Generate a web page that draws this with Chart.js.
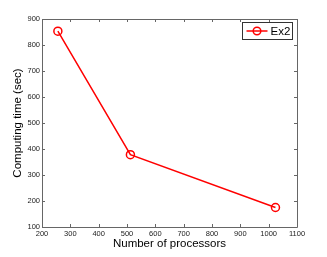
<!DOCTYPE html>
<html>
<head>
<meta charset="utf-8">
<script src="https://cdn.jsdelivr.net/npm/chart.js@4"></script>
<style>
  html, body { margin: 0; padding: 0; background: #fff; }
  #wrap { width: 327px; height: 257px; }
</style>
</head>
<body>
<div id="wrap"><canvas id="chart"></canvas></div>
<script>
const processors = [256, 512, 1024];
const computingTime = [853, 378, 175];
const seriesName = 'Ex2';
const xTicks = [200, 300, 400, 500, 600, 700, 800, 900, 1000, 1100];
const yTicks = [100, 200, 300, 400, 500, 600, 700, 800, 900];

// box around the plot with inward ticks, matlab style
const boxTicks = {
    id: 'boxTicks',
    afterDraw(chart) {
        const { ctx, chartArea: a, scales } = chart;
        ctx.save();
        ctx.strokeStyle = '#666';
        ctx.lineWidth = 1;
        ctx.beginPath();
        ctx.rect(a.left + 0.5, a.top + 0.5, a.right - a.left, a.bottom - a.top);
        ctx.stroke();
        ctx.beginPath();
        xTicks.forEach(v => {
            const x = Math.round(scales.x.getPixelForValue(v)) + 0.5;
            ctx.moveTo(x, a.bottom); ctx.lineTo(x, a.bottom - 3);
            ctx.moveTo(x, a.top); ctx.lineTo(x, a.top + 3);
        });
        yTicks.forEach(v => {
            const y = Math.round(scales.y.getPixelForValue(v)) + 0.5;
            ctx.moveTo(a.left, y); ctx.lineTo(a.left + 3, y);
            ctx.moveTo(a.right, y); ctx.lineTo(a.right - 3, y);
        });
        ctx.stroke();

        // legend box
        const bx = 242.5, by = 22.5, bw = 50, bh = 17;
        ctx.fillStyle = '#fff';
        ctx.fillRect(bx, by, bw, bh);
        ctx.strokeStyle = '#333';
        ctx.strokeRect(bx, by, bw, bh);
        const cy = by + bh / 2;
        ctx.strokeStyle = '#ff0000';
        ctx.lineWidth = 1.5;
        ctx.beginPath();
        ctx.moveTo(bx + 4, cy); ctx.lineTo(bx + 25, cy);
        ctx.stroke();
        ctx.beginPath();
        ctx.arc(bx + 14.5, cy, 3.8, 0, Math.PI * 2);
        ctx.stroke();
        ctx.fillStyle = '#000';
        ctx.font = '11.5px "Liberation Sans", Arial, sans-serif';
        ctx.textBaseline = 'middle';
        ctx.textAlign = 'left';
        ctx.fillText(chart.data.datasets[0].label, bx + 28, cy + 1);
        ctx.restore();
    }
};

const tickFont = { family: '"Liberation Sans", Arial, sans-serif', size: 7.5 };
const titleFont = { family: '"Liberation Sans", Arial, sans-serif', size: 11.5 };

new Chart(document.getElementById('chart').getContext('2d'), {
    type: 'line',
    data: {
        datasets: [{
            label: seriesName,
            data: processors.map((p, i) => ({ x: p, y: computingTime[i] })),
            borderColor: '#ff0000',
            backgroundColor: 'transparent',
            borderWidth: 1.5,
            pointRadius: 4,
            pointBorderWidth: 1.5,
            pointBackgroundColor: 'transparent',
            pointBorderColor: '#ff0000',
            tension: 0
        }]
    },
    options: {
        responsive: true,
        maintainAspectRatio: false,
        animation: false,
        layout: { padding: { top: 19, right: 30, left: 11, bottom: 0 } },
        scales: {
            x: {
                type: 'linear',
                min: 200,
                max: 1100,
                afterBuildTicks: s => { s.ticks = xTicks.map(v => ({ value: v })); },
                afterFit: s => { s.height = 30; },
                ticks: {
                    color: '#222',
                    padding: 2,
                    maxRotation: 0,
                    font: tickFont,
                    callback: v => String(v)
                },
                grid: { display: false, drawTicks: false, tickLength: 0 },
                border: { display: false },
                title: {
                    display: true,
                    text: 'Number of processors',
                    color: '#000',
                    padding: { top: 0, bottom: 6 },
                    font: titleFont
                }
            },
            y: {
                min: 100,
                max: 900,
                afterBuildTicks: s => { s.ticks = yTicks.map(v => ({ value: v })); },
                afterFit: s => { s.width = 31; },
                ticks: {
                    color: '#222',
                    padding: 2,
                    font: tickFont,
                    callback: v => String(v)
                },
                grid: { display: false, drawTicks: false, tickLength: 0 },
                border: { display: false },
                title: {
                    display: true,
                    text: 'Computing time (sec)',
                    color: '#000',
                    padding: { top: 0, bottom: 0 },
                    font: titleFont
                }
            }
        },
        plugins: {
            legend: { display: false },
            tooltip: { enabled: false }
        }
    },
    plugins: [boxTicks]
});
</script>
</body>
</html>
